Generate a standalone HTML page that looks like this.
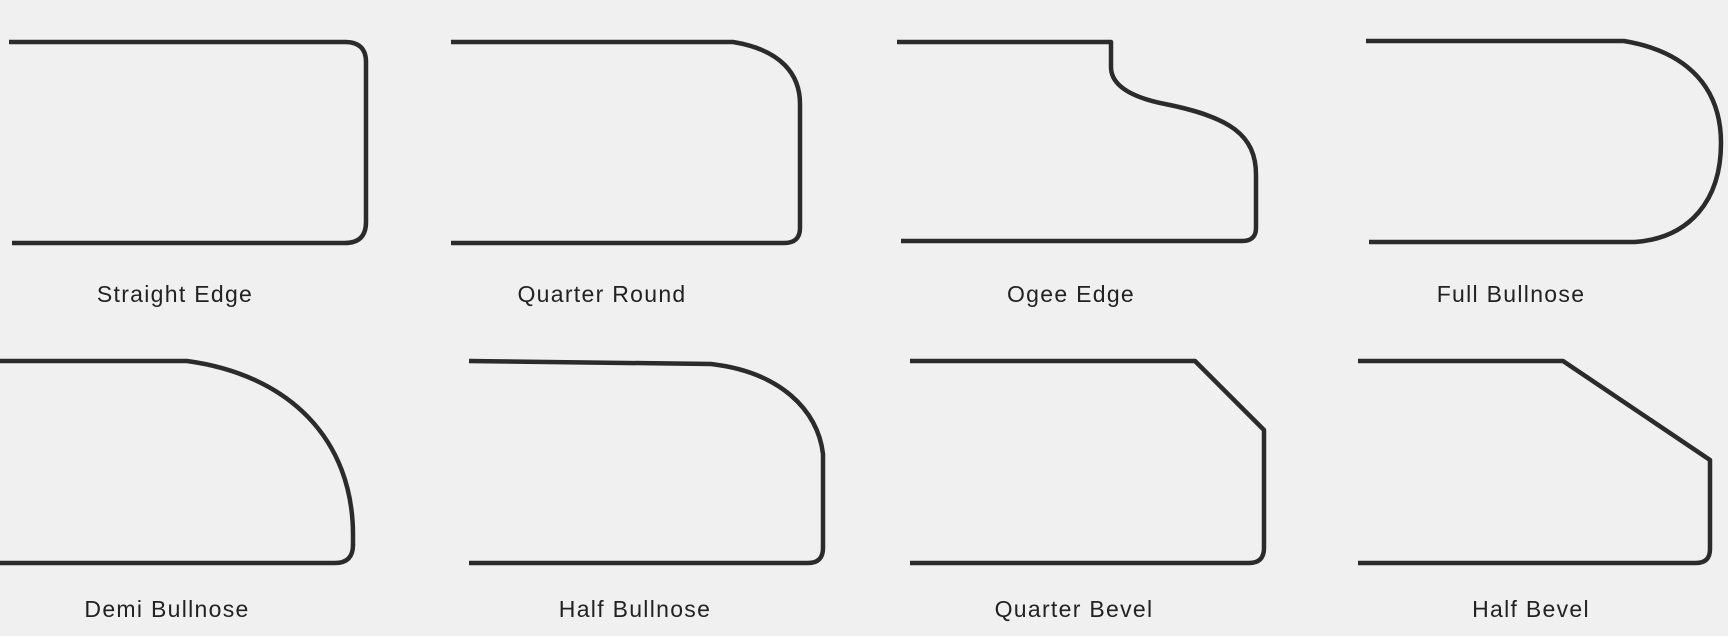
<!DOCTYPE html>
<html><head><meta charset="utf-8"><style>
html,body{margin:0;padding:0;background:#f0f0f0;}
body{width:1728px;height:636px;overflow:hidden;}
svg{display:block}
text{font-family:"Liberation Sans",sans-serif;font-size:23px;fill:#222;text-anchor:middle;letter-spacing:1.3px}
path{fill:none;stroke:#2b2b2b;stroke-width:4.5;stroke-linejoin:round}
</style></head><body>
<svg width="1728" height="636" viewBox="0 0 1728 636">
<path d="M9,42 H345 Q366,42 366,62 V222 Q366,243 345,243 H12"/>
<path d="M451,42 H733 C782,50 800,75 800,104 V228 Q800,243 784,243 H451"/>
<path d="M897,42 H1111 V67 C1111,85 1130,97 1165,104 C1230,117 1256,135 1256,175 V228 Q1256,241 1242,241 H901"/>
<path d="M1366,41 H1624 C1690,52 1721,90 1721,143 C1721,200 1690,238 1635,242 H1369"/>
<text x="175" y="302">Straight Edge</text>
<text x="602" y="302">Quarter Round</text>
<text x="1071" y="302">Ogee Edge</text>
<text x="1511" y="302">Full Bullnose</text>
<path d="M0,361 H187 C290,375 353,440 353,535 V545 Q353,563 335,563 H0"/>
<path d="M469,361 L711,364 C780,372 818,410 823,454 V548 Q823,563 808,563 H469"/>
<path d="M910,361 H1195 L1264,430 V548 Q1264,563 1249,563 H910"/>
<path d="M1358,361 H1563 L1710,460 V549 Q1710,563 1696,563 H1358"/>
<text x="167" y="617">Demi Bullnose</text>
<text x="635" y="617">Half Bullnose</text>
<text x="1074" y="617">Quarter Bevel</text>
<text x="1531" y="617">Half Bevel</text>
</svg>
</body></html>
